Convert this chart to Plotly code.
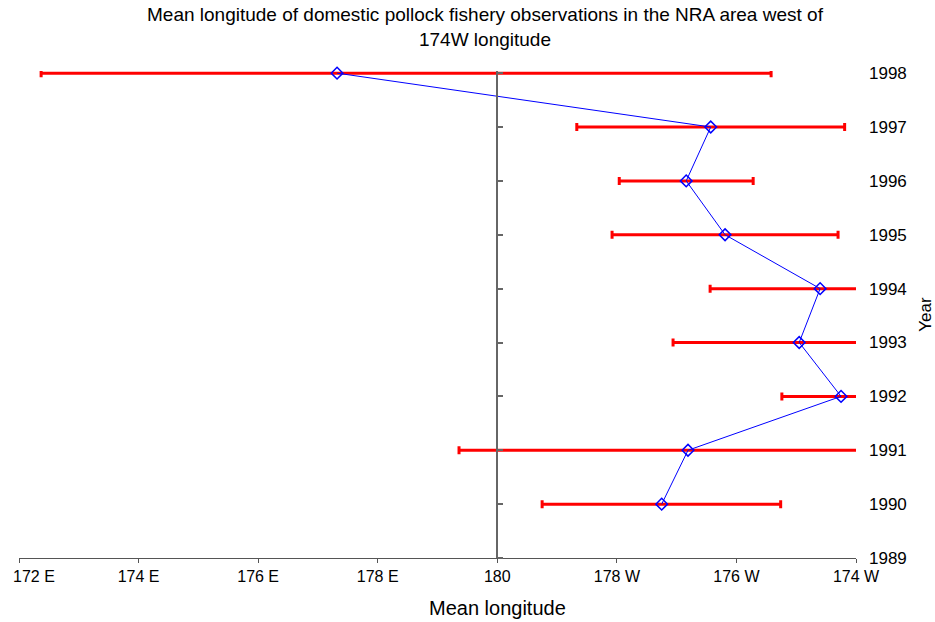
import plotly.graph_objects as go

years = [1998, 1997, 1996, 1995, 1994, 1993, 1992, 1991, 1990]
# longitude expressed in degrees east (180 = dateline, 186 = 174 W)
mean_lon = [177.32, 183.57, 183.16, 183.81, 185.40, 185.05, 185.75, 183.19, 182.75]
lower = [172.37, 181.33, 182.04, 181.92, 183.56, 182.94, 184.76, 179.36, 180.75]
upper = [184.58, 185.81, 184.28, 185.70, 187.24, 187.16, 186.74, 187.02, 184.74]

x_tickvals = [172, 174, 176, 178, 180, 182, 184, 186]
x_ticktext = ["172 E", "174 E", "176 E", "178 E", "180", "178 W", "176 W", "174 W"]
year_ticks = list(range(1989, 1999))

plus = [u - m for u, m in zip(upper, mean_lon)]
minus = [m - l for m, l in zip(mean_lon, lower)]

FONT = "Arial, Liberation Sans, sans-serif"

fig = go.Figure()
fig.add_trace(go.Scatter(
    x=mean_lon, y=years, mode="lines+markers",
    line=dict(color="#0000ff", width=1),
    marker=dict(symbol="diamond-open", size=9, color="#0000ff", line=dict(width=1.5)),
    error_x=dict(type="data", symmetric=False, array=plus, arrayminus=minus,
                 color="#ff0000", thickness=3, width=4),
    cliponaxis=False, showlegend=False,
))
# helper trace for the dateline axis
fig.add_trace(go.Scatter(x=[None], y=[None], yaxis="y2", showlegend=False, hoverinfo="skip"))

xmin, xmax = 172, 186
ymin, ymax = 1989, 1998.04

# first tick label is drawn separately so it stays inside the page
shown_text = [""] + x_ticktext[1:]

fig.update_layout(
    width=935, height=622,
    margin=dict(l=19, r=79, t=71, b=64),
    paper_bgcolor="white", plot_bgcolor="white",
    font=dict(family=FONT, size=16, color="black"),
    xaxis=dict(range=[xmin, xmax], tickvals=x_tickvals, ticktext=shown_text,
               showgrid=False, zeroline=False, showline=True, linecolor="#555555", linewidth=1,
               ticks="outside", ticklen=4, tickcolor="#555555", automargin=False,
               ticklabeloverflow="allow", tickfont=dict(size=16)),
    yaxis=dict(range=[ymin, ymax], tickvals=year_ticks, side="right",
               showgrid=False, zeroline=False, showline=False, ticks="",
               ticklabelstandoff=12, automargin=False, ticklabeloverflow="allow",
               tickfont=dict(size=17),
               title=dict(text="Year", font=dict(size=17), standoff=14)),
    yaxis2=dict(range=[ymin, ymax], overlaying="y", anchor="free",
                position=(180 - xmin) / (xmax - xmin), side="right",
                tickvals=year_ticks, showticklabels=False, showgrid=False, zeroline=False,
                showline=True, linecolor="#666666", linewidth=1.5,
                ticks="outside", ticklen=5, tickcolor="#666666", tickwidth=1.5),
    annotations=[
        dict(text="Mean longitude of domestic pollock fishery observations in the NRA area west of<br>174W longitude",
             xref="paper", yref="paper", x=0.557, y=1.04, xanchor="center", yanchor="bottom",
             showarrow=False, font=dict(size=19, family=FONT)),
        dict(text="Mean longitude", xref="x", yref="paper", x=180, y=-0.103,
             xanchor="center", yanchor="middle", showarrow=False,
             font=dict(size=20, family=FONT)),
        dict(text=x_ticktext[0], xref="x", yref="paper", x=x_tickvals[0], y=-0.037,
             xanchor="left", yanchor="middle", xshift=-8, showarrow=False,
             font=dict(size=16, family=FONT)),
    ],
)

fig.write_html("out.html")
